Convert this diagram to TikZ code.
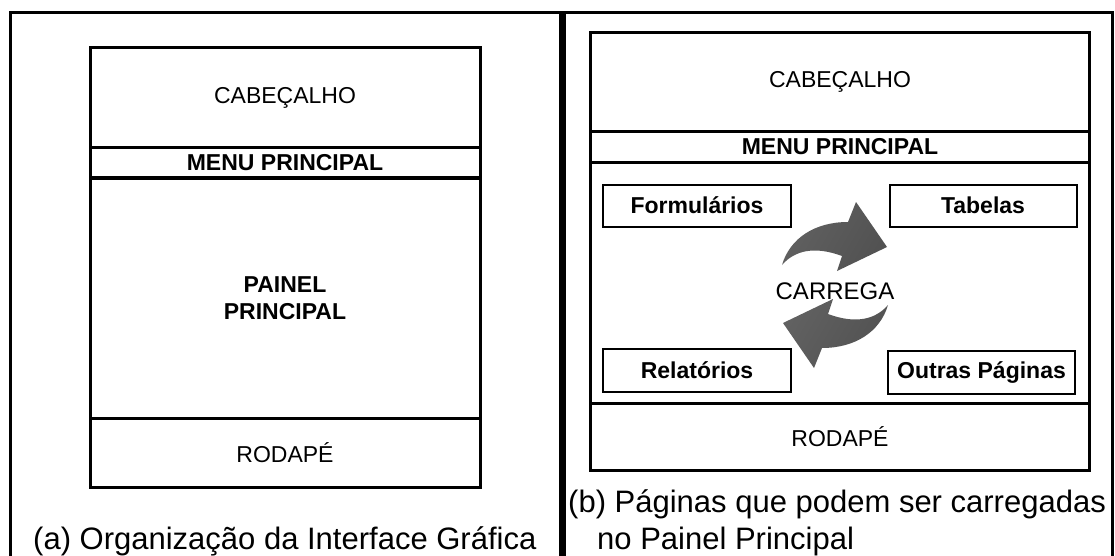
\documentclass[tikz,border=0pt]{standalone}
\usepackage{fontspec}
\setmainfont{Liberation Sans}
\tikzset{
  band/.style={draw, line width=3pt, inner sep=0pt, font=\fontsize{23}{27}\selectfont},
  bandb/.style={band, font=\fontsize{23}{27}\selectfont\bfseries},
  pagebox/.style={draw, line width=2pt, inner sep=0pt, minimum width=188pt, minimum height=42pt, font=\fontsize{23}{27}\selectfont\bfseries},
  captext/.style={font=\fontsize{31}{36}\selectfont, inner sep=0pt, anchor=base west},
  framew/.style={line width=3pt},
  arrowfill/.style={left color=black!62, middle color=black!35, right color=black!68, shading angle=60}
}
\begin{document}
\begin{tikzpicture}[x=1pt, y=-1pt]
\useasboundingbox (0,0) rectangle (1115,556);
\fill[white] (0,0) rectangle (1115,556);
% outer frame and divider
\draw[framew] (10.5,557) -- (10.5,13) -- (1112,13) -- (1112,557);
\draw[line width=7pt] (562,13) -- (562,557);
% left panel
\node[band,  minimum width=390pt, minimum height=100pt] (cabA) at (285,98) {CABEÇALHO};
\node[bandb, minimum width=390pt, minimum height=30pt] (menuA) at (285,163) {MENU PRINCIPAL};
\node[bandb, minimum width=390pt, minimum height=240pt, align=center] (painelA) at (285,298) {PAINEL\\PRINCIPAL};
\node[band,  minimum width=390pt, minimum height=69.5pt] (rodA) at (285,452.75) {RODAPÉ};
% right panel
\node[band,  minimum width=499pt, minimum height=98.5pt] (cabB) at (840,82.25) {CABEÇALHO};
\node[bandb, minimum width=499pt, minimum height=31pt] (menuB) at (840,147) {MENU PRINCIPAL};
\node[draw, line width=3pt, minimum width=499pt, minimum height=241pt] (painelB) at (840,283) {};
\node[band,  minimum width=499pt, minimum height=67pt] (rodB) at (840,437) {RODAPÉ};
% pages
\node[pagebox] (form) at (697,205.5) {Formulários};
\node[pagebox, minimum width=187pt] (tab) at (983,205.5) {Tabelas};
\node[pagebox, minimum height=43pt] (rel) at (697,370.5) {Relatórios};
\node[pagebox, minimum width=187pt, minimum height=42.5pt] (outras) at (981.5,372.5) {Outras Páginas};
% arrows
\path[arrowfill] (782,265) .. controls (790,238) and (815,222) .. (848,222)
  -- (856,202) -- (887,247) -- (837,271) -- (842,256)
  .. controls (815,246) and (795,250) .. cycle;
\begin{scope}[rotate around={180:(835,285)}]
\path[arrowfill] (782,265) .. controls (790,238) and (815,222) .. (848,222)
  -- (856,202) -- (887,247) -- (837,271) -- (842,256)
  .. controls (815,246) and (795,250) .. cycle;
\end{scope}
\node[font=\fontsize{24}{28}\selectfont, inner sep=1pt] (carrega) at (835,291) {CARREGA};
% captions
\node[captext] (capA) at (33,549) {(a) Organização da Interface Gráfica};
\node[captext] (capB1) at (568,512) {(b) Páginas que podem ser carregadas};
\node[captext] (capB2) at (597,549) {no Painel Principal};
\end{tikzpicture}
\end{document}
